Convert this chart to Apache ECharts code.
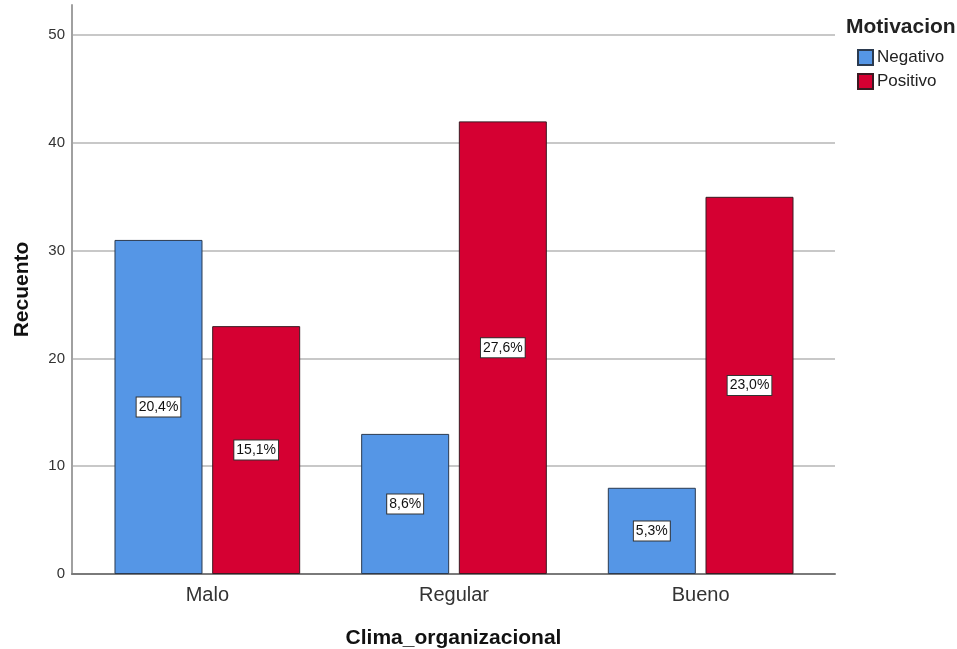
<!DOCTYPE html>
<html>
<head>
<meta charset="utf-8">
<script src="https://cdn.jsdelivr.net/npm/echarts@6/dist/echarts.min.js"></script>
<style>
  html, body { margin: 0; padding: 0; background: #fff; }
  #chart { width: 957px; height: 649px; }
</style>
</head>
<body>
<div id="chart"></div>
<script>
// Recuento por Clima_organizacional y Motivacion
const categories = ['Malo', 'Regular', 'Bueno'];
const negativo = [31, 13, 8];
const positivo = [23, 42, 35];
const seriesNames = ['Negativo', 'Positivo'];
const yTicks = [0, 10, 20, 30, 40, 50];

const total = negativo.concat(positivo).reduce((a, b) => a + b, 0);
const FONT = '"Liberation Sans", Arial, sans-serif';

function pctLabel(p) {
  return (p.value / total * 100).toFixed(1).replace('.', ',') + '%';
}

const labelStyle = {
  show: true,
  position: 'inside',
  formatter: pctLabel,
  color: '#111',
  fontFamily: FONT,
  fontSize: 14,
  backgroundColor: '#fff',
  borderColor: '#333',
  borderWidth: 1,
  padding: [3, 2, 2, 2]
};

const yMax = 52.8;

const chart = echarts.init(document.getElementById('chart'), null, { renderer: 'canvas' });
chart.setOption({
  animation: false,
  backgroundColor: '#fff',
  textStyle: { fontFamily: FONT },
  title: {
    text: 'Motivacion',
    left: 846,
    top: 17,
    padding: 0,
    textStyle: { fontFamily: FONT, fontSize: 21, fontWeight: 'bold', color: '#222' }
  },
  legend: {
    data: seriesNames,
    orient: 'vertical',
    left: 857,
    top: 49,
    padding: 0,
    itemWidth: 15,
    itemHeight: 15,
    itemGap: 7,
    icon: 'rect',
    textStyle: { fontFamily: FONT, fontSize: 17, color: '#222', padding: [0, 0, 0, -1] }
  },
  grid: [
    { left: 72, right: 122, top: 5, bottom: 75, outerBoundsMode: 'none', containLabel: false },
    { left: 84, right: 133, top: 5, bottom: 75, outerBoundsMode: 'none', containLabel: false }
  ],
  xAxis: [
    {
      gridIndex: 0,
      type: 'category',
      data: categories,
      axisLine: { show: true, lineStyle: { color: '#7a7a7a', width: 2 } },
      axisTick: { show: false },
      axisLabel: { show: false },
      name: 'Clima_organizacional',
      nameLocation: 'middle',
      nameGap: 54,
      nameTextStyle: { fontFamily: FONT, fontSize: 21, fontWeight: 'bold', color: '#111' }
    },
    {
      gridIndex: 1,
      type: 'category',
      data: categories,
      axisLine: { show: false },
      axisTick: { show: false },
      axisLabel: { fontFamily: FONT, fontSize: 20, color: '#333', margin: 11 }
    }
  ],
  yAxis: [
    {
      gridIndex: 0,
      type: 'value',
      min: 0,
      max: yMax,
      interval: 10,
      axisLine: { show: true, lineStyle: { color: '#a0a0a0', width: 2 } },
      axisTick: { show: false },
      axisLabel: {
        fontFamily: FONT, fontSize: 15, color: '#333', margin: 7,
        showMaxLabel: false,
        formatter: v => (yTicks.indexOf(v) >= 0 ? String(v) : '')
      },
      splitLine: { show: true, showMinLine: false, showMaxLine: false, lineStyle: { color: '#c8c8c8', width: 2 } },
      name: 'Recuento',
      nameLocation: 'middle',
      nameGap: 39,
      nameRotate: 90,
      nameTextStyle: { fontFamily: FONT, fontSize: 21, fontWeight: 'bold', color: '#111' }
    },
    {
      gridIndex: 1,
      type: 'value',
      min: 0,
      max: yMax,
      interval: 10,
      show: false,
      splitLine: { show: false }
    }
  ],
  series: [
    {
      name: seriesNames[0],
      type: 'bar',
      xAxisIndex: 1,
      yAxisIndex: 1,
      data: negativo,
      barWidth: 88,
      barGap: '11%',
      itemStyle: { color: '#5596e6', borderColor: '#2b3a4f', borderWidth: 1 },
      label: labelStyle
    },
    {
      name: seriesNames[1],
      type: 'bar',
      xAxisIndex: 1,
      yAxisIndex: 1,
      data: positivo,
      barWidth: 88,
      barGap: '11%',
      itemStyle: { color: '#d50032', borderColor: '#3a1a22', borderWidth: 1 },
      label: labelStyle
    }
  ]
});
</script>
</body>
</html>
